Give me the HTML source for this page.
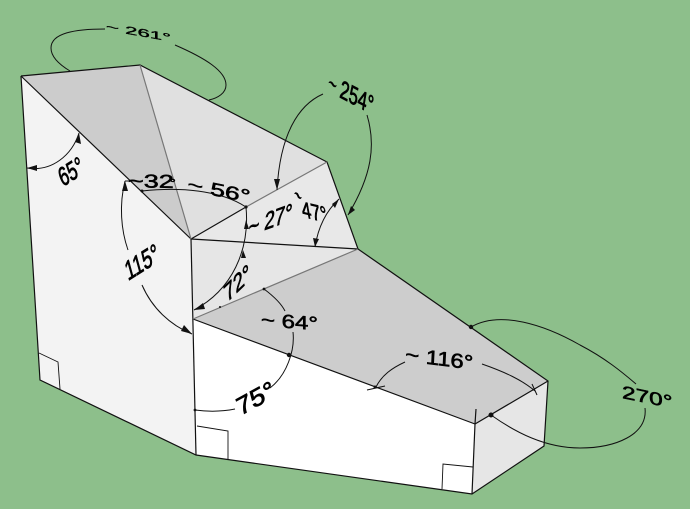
<!DOCTYPE html>
<html><head><meta charset="utf-8"><style>
html,body{margin:0;padding:0;background:#8dbf8b}
svg{display:block;filter:blur(.3px)}
text{font-family:"Liberation Sans",sans-serif;font-size:20px;fill:#000;stroke:#000;stroke-width:.6px}
</style></head><body>
<svg width="690" height="509" viewBox="0 0 690 509" xmlns="http://www.w3.org/2000/svg">
<rect width="690" height="509" fill="#8dbf8b"/>
<g stroke="none">
<polygon points="21,76 40,380 196,455 193,319 191,239" fill="#f3f3f3"/>
<polygon points="21,76 140,65 191,239" fill="#cccccc"/>
<polygon points="140,65 327,162 246,207 191,239" fill="#e0e0e0"/>
<polygon points="191,239 246,207 327,162 358,249" fill="#e8e8e8"/>
<polygon points="191,239 358,249 193,319" fill="#e6e6e6"/>
<polygon points="193,319 358,249 548,381 475,424" fill="#cdcdcd"/>
<polygon points="193,319 475,424 472,494 196,455" fill="#ffffff"/>
<polygon points="475,424 548,381 544,446 472,494" fill="#e6e6e6"/>
</g>
<g fill="none" stroke="#111" stroke-width="1.2">
<polyline points="21,76 40,380 196,455 472,494 544,446 548,381 358,249 327,162 140,65 21,76"/>
<line x1="21" y1="76" x2="191" y2="239"/>
<line x1="191" y1="239" x2="196" y2="455"/>
<line x1="191" y1="239" x2="246" y2="207"/>
<line x1="191" y1="239" x2="358" y2="249"/>
<line x1="193" y1="319" x2="475" y2="424"/>
<line x1="475" y1="424" x2="548" y2="381"/>
<line x1="475" y1="424" x2="472" y2="494"/>
<line x1="476" y1="409" x2="475" y2="424"/>
<g stroke="#777"><line x1="140" y1="65" x2="191" y2="239"/><line x1="246" y1="207" x2="327" y2="162"/><line x1="193" y1="319" x2="358" y2="249"/></g>
<g stroke-width=".9">
<polyline points="39,353 58,362 60,389"/>
<polyline points="197,426 228,431 228,459"/>
<polyline points="442,489 443,464 473,467"/>
</g>
<g stroke-width="1">
<path d="M105,29 C75,29 51,33 51,48 C51,57 60,65 70,71"/>
<path d="M175,45 C205,58 226,71 226,85 C226,93 218,98 209,100"/>
<path d="M323,94 C298,105 280,135 277,190"/>
<path d="M367,115 C376,145 372,175 348,215"/>
<path d="M79,133 C72,155 52,172 27,168"/>
<path d="M142,191 C180,187 220,190 246,207"/>
<path d="M125,181 C119,205 121,230 128,250"/>
<path d="M142,285 C152,308 170,325 192,334"/>
<path d="M125,181 L137,181"/>
<path d="M246,207 C250,250 232,290 194,310"/>
<path d="M339,199 C325,212 318,228 315,247"/>
<path d="M264,289 C272,295 281,303 285,311"/>
<path d="M293,332 C295,350 287,375 270,388"/>
<path d="M195,410 C210,412 225,411 235,409"/>
<path d="M376,387 C382,375 392,368 405,362"/>
<path d="M482,364 C505,372 522,380 535,391"/>
<line x1="367" y1="390" x2="385" y2="386"/>
<line x1="532" y1="384" x2="537" y2="395"/>
<path d="M471,327 C500,310 545,325 580,345 C605,358 622,372 636,384"/>
<path d="M645,408 C648,435 615,448 580,448 C545,448 515,432 491,415"/>
</g>
</g>
<g fill="#111" stroke="none">
<polygon points="79,133 81,144 75,142"/>
<polygon points="27,168 37,165 37,171"/>
<polygon points="277,190 274,179 280,179"/>
<polygon points="348,215 351,206 355,210"/>
<polygon points="192,334 181,331 184,325"/>
<polygon points="194,310 203,303 205,309"/>
<polygon points="125,181 122,191 128,191"/>
<polygon points="339,199 332,204 335,208"/>
<polygon points="315,247 313,238 319,239"/>
<polygon points="246,220 244,229 249,229"/>
<polygon points="243,250 241,258 246,258"/>
<circle cx="246" cy="207" r="1.6"/><circle cx="142" cy="191" r="1.5"/>
<circle cx="264" cy="289" r="1.4"/><circle cx="289" cy="355" r="2.2"/>
<circle cx="195" cy="410" r="1.4"/><circle cx="471" cy="327" r="2.2"/>
<circle cx="491" cy="415" r="2.5"/><circle cx="375" cy="387" r="1.5"/><circle cx="220" cy="307" r="1"/>
</g>
<text transform="matrix(1.11,.2,0,.55,106,30)">~ 261°</text>
<text transform="translate(325,87) rotate(35) scale(.8,1)">~</text>
<text transform="matrix(.8,.42,-.2,1.25,339,97)">254°</text>
<text transform="matrix(.75,-.48,.47,1.2,62.7,187)">65°</text>
<text transform="matrix(1.35,.03,0,.93,128,187)">~32<tspan dx="-3" dy="-2" font-size="11">°</tspan></text>
<text transform="matrix(1.32,.27,-.1,.9,187,190)">~ 56°</text>
<text transform="matrix(.81,-.51,.35,1.28,128,281)">115°</text>
<text transform="matrix(.84,-.81,.3,1.1,226.7,302.7)">72°</text>
<text transform="matrix(.92,-.33,-.1,1.25,248,236)">~ 27°</text>
<text transform="translate(290,197) rotate(45) scale(.8,1)">~</text>
<text transform="matrix(.84,.2,.2,1.15,303,217)">47°</text>
<text transform="matrix(1.2,.09,0,.95,261,326)">~ 64°</text>
<text transform="matrix(1.2,-.66,.4,1.15,240,416)">75°</text>
<text transform="matrix(1.19,.15,-.05,1,405,361)">~ 116°</text>
<text transform="matrix(1.22,.25,0,.9,622,398)">270°</text>
</svg>
</body></html>
